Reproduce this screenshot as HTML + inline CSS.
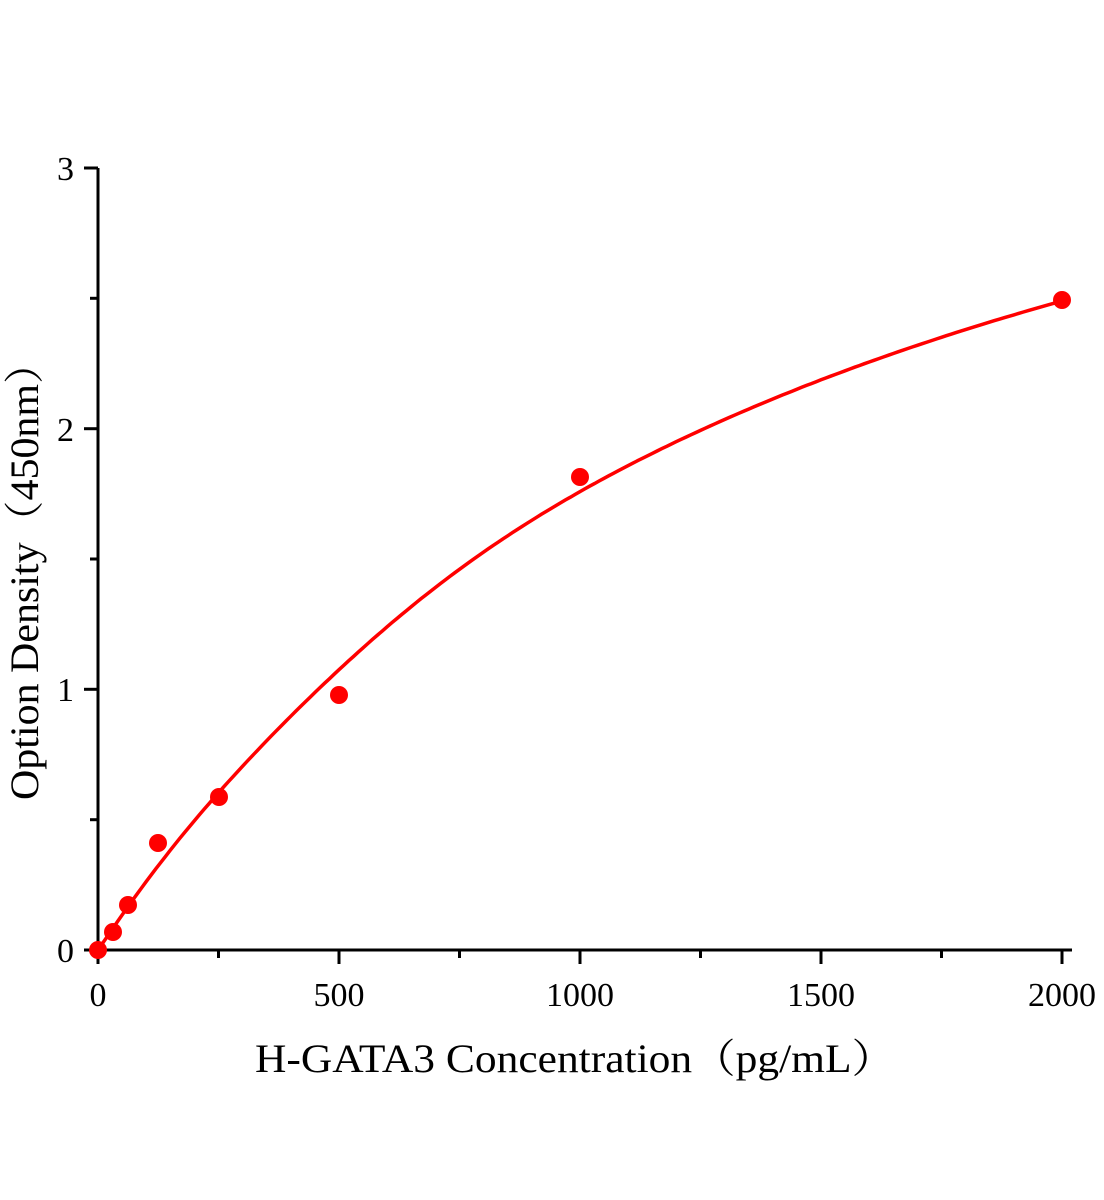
<!DOCTYPE html>
<html><head><meta charset="utf-8"><style>html,body{margin:0;padding:0;background:#fff}svg{display:block}</style></head>
<body>
<svg width="1104" height="1200" viewBox="0 0 1104 1200" xmlns="http://www.w3.org/2000/svg">
<g stroke="#000" stroke-width="3" fill="none">
<line x1="98" y1="168" x2="98" y2="951.5"/>
<line x1="96.5" y1="950" x2="1072" y2="950"/>
<line x1="84" y1="950" x2="98" y2="950"/>
<line x1="84" y1="689.3" x2="98" y2="689.3"/>
<line x1="84" y1="428.7" x2="98" y2="428.7"/>
<line x1="84" y1="168" x2="98" y2="168"/>
<line x1="90" y1="819.7" x2="98" y2="819.7"/>
<line x1="90" y1="559" x2="98" y2="559"/>
<line x1="90" y1="298.3" x2="98" y2="298.3"/>
<line x1="98" y1="950" x2="98" y2="964"/>
<line x1="339" y1="950" x2="339" y2="964"/>
<line x1="580" y1="950" x2="580" y2="964"/>
<line x1="821" y1="950" x2="821" y2="964"/>
<line x1="1062" y1="950" x2="1062" y2="964"/>
<line x1="218.5" y1="950" x2="218.5" y2="958"/>
<line x1="459.5" y1="950" x2="459.5" y2="958"/>
<line x1="700.5" y1="950" x2="700.5" y2="958"/>
<line x1="941.5" y1="950" x2="941.5" y2="958"/>
</g>
<polyline id="curve" fill="none" stroke="#f00" stroke-width="3.5" points="98,950 122,916 146,882 170,848 194,817 219,791 243,764 291,712 339,664 387.2,620.2 435.4,583.4 507.7,534.3 580,491.3 652.3,453.3 724.6,419.5 869.2,362 965.6,329.6 1062,300.9"/>
<script>
(function(){var p=[];for(var x=0;x<=2000;x+=10){var y=4.255*x/(1418+x)-0.045*Math.exp(-Math.pow((x-350)/350,2))*x/(x+50);p.push((98+0.482*x).toFixed(1)+","+(950-260.67*y).toFixed(1));}document.getElementById("curve").setAttribute("points",p.join(" "));})();
</script>
<g fill="#f00">
<circle cx="98" cy="950" r="9"/>
<circle cx="113" cy="932" r="9"/>
<circle cx="128" cy="905" r="9"/>
<circle cx="158" cy="843" r="9"/>
<circle cx="219" cy="797" r="9"/>
<circle cx="339" cy="695" r="9"/>
<circle cx="580" cy="477" r="9"/>
<circle cx="1062" cy="300" r="9"/>
</g>
<g font-family="Liberation Serif, serif" font-size="34" fill="#000">
<text x="74" y="962" text-anchor="end">0</text>
<text x="74" y="701" text-anchor="end">1</text>
<text x="74" y="441" text-anchor="end">2</text>
<text x="74" y="180" text-anchor="end">3</text>
<text x="98" y="1006" text-anchor="middle">0</text>
<text x="339" y="1006" text-anchor="middle">500</text>
<text x="580" y="1006" text-anchor="middle">1000</text>
<text x="821" y="1006" text-anchor="middle">1500</text>
<text x="1062" y="1006" text-anchor="middle">2000</text>
</g>
<text x="255" y="1072" font-family="Liberation Serif, 'Noto Serif CJK SC', serif" font-size="40" textLength="640" lengthAdjust="spacingAndGlyphs">H-GATA3 Concentration（pg/mL）</text>
<text transform="translate(38,800) rotate(-90)" font-family="Liberation Serif, 'Noto Serif CJK SC', serif" font-size="40" textLength="458" lengthAdjust="spacingAndGlyphs">Option Density（450nm）</text>
</svg>
</body></html>
